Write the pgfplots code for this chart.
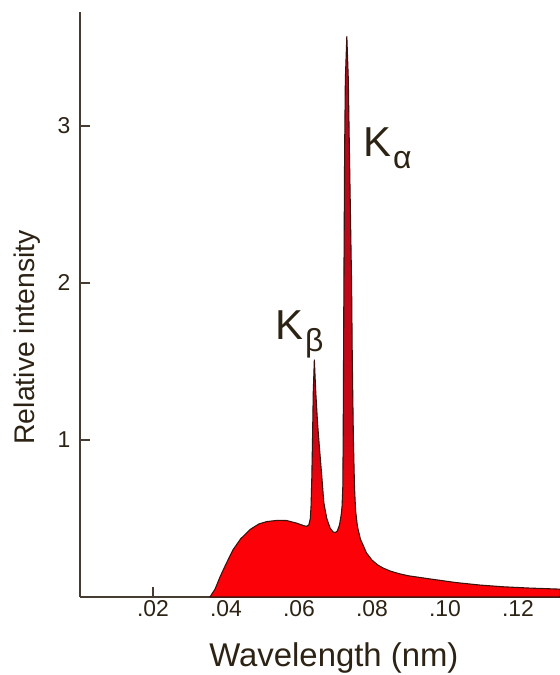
\documentclass[border=0pt]{standalone}
\usepackage{pgfplots}
\pgfplotsset{compat=1.18}
\usepackage{fontspec}
\setmainfont{Liberation Sans}
\definecolor{txt}{RGB}{45,35,20}
\definecolor{axc}{RGB}{70,60,50}
\definecolor{fillred}{RGB}{252,2,8}
\definecolor{crimson}{RGB}{175,10,30}
\definecolor{outl}{RGB}{60,18,12}
\pgfdeclareverticalshading{peakshade}{100bp}{color(0bp)=(fillred); color(25bp)=(fillred); color(33bp)=(fillred); color(40bp)=(crimson!70!fillred); color(75bp)=(crimson); color(100bp)=(crimson)}
\begin{document}
\begin{tikzpicture}
\begin{axis}[
  scale only axis, width=480bp, height=585bp,
  xmin=0, xmax=0.1315, ymin=0, ymax=3.726,
  axis x line=bottom, axis y line=left,
  axis line style={-, line width=1.6bp, draw=axc},
  xtick={0.02,0.04,0.06,0.08,0.10,0.12},
  xticklabels={.02,.04,.06,.08,.10,.12},
  ytick={1,2,3}, yticklabels={1,2,3},
  tick align=inside, major tick length=10bp,
  tick style={line width=1.4bp, draw=axc},
  ticklabel style={font=\fontsize{23}{23}\selectfont, text=txt},
  yticklabel style={xshift=-6bp},
  xlabel={Wavelength (nm)}, ylabel={Relative intensity},
  xlabel style={font=\fontsize{33}{33}\selectfont, text=txt, at={(axis description cs:0.529,-0.104)}, anchor=center},
  ylabel style={font=\fontsize{28.5}{28.5}\selectfont, text=txt, at={(axis description cs:-0.11,0.444)}, anchor=center},
  clip=false,
]
\addplot[shade, shading=peakshade, draw=outl, line width=1.1bp, line join=round] table {
x y
0.0356 0
0.0370 0.05
0.0384 0.13
0.0400 0.21
0.0419 0.30
0.0440 0.37
0.0466 0.43
0.0490 0.465
0.0511 0.48
0.0540 0.488
0.0566 0.487
0.0594 0.47
0.0612 0.455
0.0621 0.45
0.0627 0.46
0.0631 0.50
0.0633 0.58
0.0635 0.75
0.0637 1.0
0.0639 1.3
0.0642 1.51
0.0646 1.3
0.0651 1.1
0.0656 0.95
0.0662 0.78
0.0668 0.60
0.0676 0.50
0.0685 0.44
0.0693 0.415
0.0699 0.41
0.0705 0.42
0.0711 0.46
0.0716 0.53
0.0718 0.58
0.0720 0.7
0.0721 1.0
0.0722 1.5
0.0723 2.0
0.0725 2.85
0.0727 3.3
0.0731 3.57
0.0735 3.3
0.0738 2.85
0.0744 2.0
0.0746 1.5
0.0749 1.0
0.0752 0.7
0.0755 0.55
0.0760 0.45
0.0768 0.37
0.0785 0.28
0.0800 0.235
0.0815 0.205
0.0830 0.185
0.0850 0.165
0.0875 0.148
0.0900 0.135
0.0959 0.115
0.1030 0.092
0.1096 0.076
0.1160 0.065
0.1230 0.057
0.1315 0.05
} \closedcycle;
\node[anchor=base west, text=txt, font=\fontsize{42}{42}\selectfont, inner sep=0pt] at (axis cs:0.0775,2.803) {K\kern2bp\raisebox{-12bp}{\fontsize{32}{32}\selectfont α}};
\node[anchor=base west, text=txt, font=\fontsize{42}{42}\selectfont, inner sep=0pt] at (axis cs:0.0534,1.637) {K\kern2bp\raisebox{-12bp}{\fontsize{32}{32}\selectfont β}};
\coordinate (ll) at (rel axis cs:0,0);
\coordinate (ur) at (rel axis cs:1,1);
\end{axis}
\pgfresetboundingbox
\path[use as bounding box] ([shift={(-80bp,-78bp)}]ll) rectangle ([shift={(0bp,12bp)}]ur);
\end{tikzpicture}
\end{document}
